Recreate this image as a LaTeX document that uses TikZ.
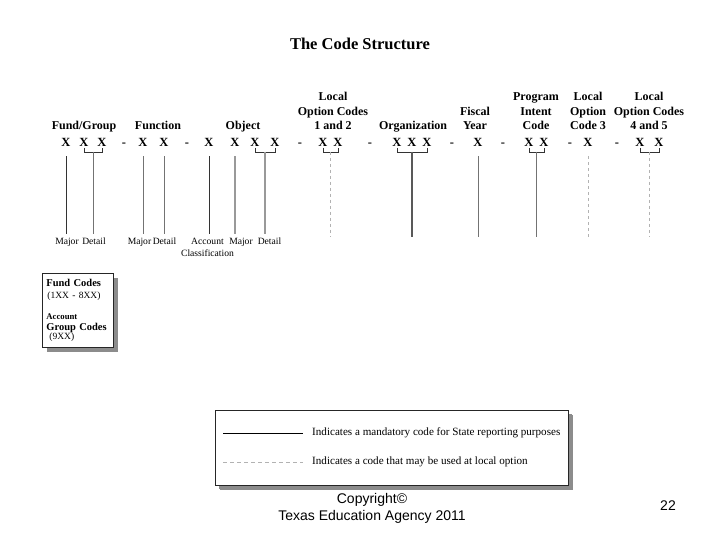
\documentclass[tikz,border=0pt]{standalone}
\usepackage{fontspec}
\setmainfont{Liberation Serif}
\newfontfamily\slidefont{Liberation Sans}
\usetikzlibrary{positioning,calc,shadows}

\begin{document}
\begin{tikzpicture}[
  x=1pt, y=-1pt,
  font=\fontsize{10}{12}\selectfont,
  title/.style={font=\fontsize{16.5}{19}\selectfont\bfseries, inner sep=0pt},
  head/.style={anchor=south, align=center, inner sep=0pt, text depth=0pt,
    font=\fontsize{12}{14.5}\selectfont\bfseries},
  code/.style={inner sep=0pt, font=\fontsize{12.5}{14}\selectfont\bfseries},
  sub/.style={anchor=north, align=center, inner xsep=0pt, inner ysep=4pt,
    font=\fontsize{9.6}{11.5}\selectfont},
  brk/.style={draw=black!80, line width=0.8pt},
  mand/.style={draw=black!80, line width=0.9pt},
  mandg/.style={mand, draw=black!55},
  wide/.style={draw=black!40, line width=2.6pt},
  org/.style={draw=black!65, line width=1.8pt},
  opt/.style={draw=black!30, line width=0.8pt, dash pattern=on 3pt off 3pt},
  shadowbox/.style={draw=black!85, fill=white, line width=0.8pt,
    drop shadow={shadow xshift=5pt, shadow yshift=-5pt, fill=black!45, opacity=1}},
  legtext/.style={anchor=west, inner sep=0pt, font=\fontsize{11.1}{13}\selectfont},
  foot/.style={align=center, inner sep=0pt, font=\slidefont\fontsize{14}{17}\selectfont}
]
\useasboundingbox (0,0) rectangle (720,540);
\fill[white] (0,0) rectangle (720,540);

% ---------- Title ----------
\node[title] (title) at (360,44) {The Code Structure};

% ---------- Row 1: field names ----------
\node[head] (hFund)  at (84,130)  {Fund/Group};
\node[head] (hFunc)  at (158,130) {Function};
\node[head] (hObj)   at (243,130) {Object};
\node[head] (hLoA)   at (333,130) {Local\\Option Codes\\1 and 2};
\node[head] (hOrg)   at (413,130) {Organization};
\node[head] (hFy)    at (475,130) {Fiscal\\Year};
\node[head] (hPi)    at (536,130) {Program\\Intent\\Code};
\node[head] (hLoC)   at (588,130) {Local\\Option\\Code 3};
\node[head] (hLoD)   at (649,130) {Local\\Option Codes\\4 and 5};

% ---------- Row 2: the code digits ----------
\foreach \n/\x in {fgA/66, fgB/84, fgC/102, fnA/143, fnB/164,
                   obA/209, obB/235, obC/255, obD/275, loA/323, loB/338,
                   orA/397, orB/412, orC/427, fyA/478, piA/529, piB/544,
                   lcA/588, ldA/640, ldB/659}
  \node[code] (\n) at (\x,142) {X};
\foreach \x [count=\i] in {124,187,300,370,452,503,570,617}
  \node[code] (dash\i) at (\x,144.5) {-};

% brackets under grouped digits
\coordinate (brow) at (0,152);
\foreach \a/\b/\m in {fgB/fgC/fgM, obC/obD/obM, loA/loB/loM,
                      orA/orC/orM, piA/piB/piM, ldA/ldB/ldM} {
  \draw[brk] ([yshift=-1.5pt]\a.south) -- (\a |- brow) -- (\b |- brow)
    -- ([yshift=-1.5pt]\b.south);
  \coordinate (\m) at ($(\a |- brow)!.5!(\b |- brow)$);
}

% ---------- Row 3: sub-field names ----------
\node[sub] (fgMaj) at (67,234)    {Major};
\node[sub] (fgDet) at (94,234)    {Detail};
\node[sub] (fnMaj) at (139.5,234) {Major};
\node[sub] (fnDet) at (164.5,234) {Detail};
\node[sub] (obAcc) at (207.5,234) {Account\\Classification};
\node[sub] (obMaj) at (241,234)   {Major};
\node[sub] (obDet) at (269.5,234) {Detail};
\coordinate (erow) at (0,237);

% connectors from digits to sub-fields
\draw[mand]  ([yshift=-10pt]fgA.south) -- (fgA |- fgMaj.north);
\draw[mandg] (fgM) -- (fgM |- fgDet.north);
\draw[mandg] ([yshift=-10pt]fnA.south) -- (fnA |- fnMaj.north);
\draw[mandg] ([yshift=-10pt]fnB.south) -- (fnB |- fnDet.north);
\draw[mand]  ([yshift=-10pt]obA.south) -- (obA |- obAcc.north);
\draw[wide]  ([yshift=-10pt]obB.south) -- (obB |- obMaj.north);
\draw[wide]  (obM) -- (obM |- obDet.north);
\draw[opt]   (loM) -- (loM |- erow);
\draw[org]   (orM) -- (orM |- erow);
\draw[mandg] ([yshift=-10pt]fyA.south) -- (fyA |- erow);
\draw[mandg] (piM) -- (piM |- erow);
\draw[opt]   ([yshift=-10pt]lcA.south) -- (lcA |- erow);
\draw[opt]   (ldM) -- (ldM |- erow);

% ---------- Fund codes box ----------
\node[shadowbox, anchor=north west, text width=63pt, inner xsep=4pt,
      minimum height=74pt, align=left, font=\fontsize{10}{11}\selectfont]
  (fund) at (42,273) {%
  {\fontsize{10.5}{11}\selectfont\bfseries Fund Codes}\\[1pt]
  \hspace*{1pt}{\fontsize{9.5}{11}\selectfont(1XX - 8XX)}\\[10pt]
  {\fontsize{8.7}{11}\selectfont\bfseries Account}\\
  {\fontsize{10.5}{11}\selectfont\bfseries Group Codes}\\[-2pt]
  \hspace*{3pt}{\fontsize{9.5}{11}\selectfont(9XX)}};

% ---------- Legend ----------
\node[shadowbox, anchor=north west, minimum width=353pt, minimum height=75pt,
      drop shadow={shadow xshift=4pt, shadow yshift=-4pt, fill=black!45, opacity=1}]
  (legend) at (215,410) {};
\draw[draw=black, line width=0.9pt] ($(legend.north west)+(8,23)$) coordinate (swA)
  -- ++(80,0) coordinate (swB);
\draw[opt, dash pattern=on 4pt off 3pt] ($(legend.north west)+(8,52)$) coordinate (swC)
  -- ++(80,0) coordinate (swD);
\node[legtext] (legMand) at ($(swB)+(9,0)$)
  {Indicates a mandatory code for State reporting purposes};
\node[legtext] (legOpt) at ($(swD)+(9,0)$)
  {Indicates a code that may be used at local option};

% ---------- Footer ----------
\node[foot] (copy) at (372,508) {Copyright©\\Texas Education Agency 2011};
\node[foot] (page) at (668,506) {22};

\end{tikzpicture}
\end{document}
